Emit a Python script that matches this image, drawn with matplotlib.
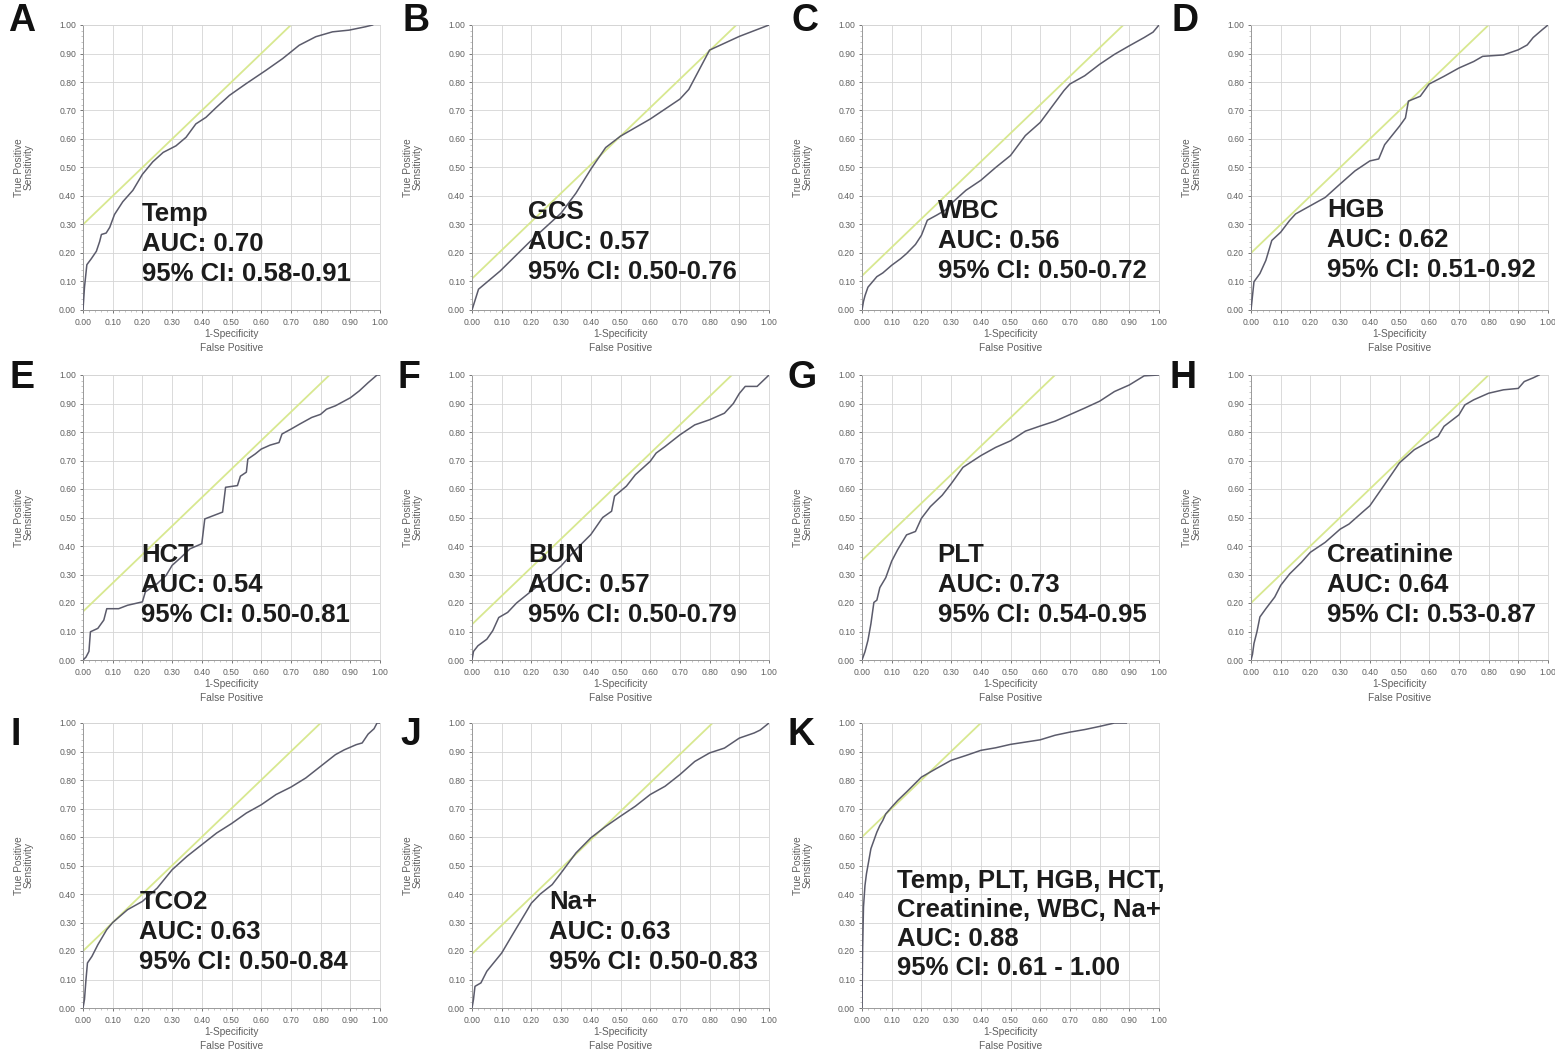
import numpy as np
import matplotlib
matplotlib.use("Agg")
import matplotlib.pyplot as plt
from matplotlib.ticker import MultipleLocator, FormatStrFormatter

plt.rcParams['font.family'] = ['Liberation Sans', 'DejaVu Sans']

# ---- ROC curve data (false positive rate, true positive rate) ----
temp_fpr = [0, 0.005, 0.013, 0.028, 0.045, 0.056, 0.062, 0.078, 0.09, 0.106, 0.134, 0.168, 0.20, 0.235,
            0.27, 0.313, 0.347, 0.38, 0.414, 0.448, 0.493, 0.549, 0.616, 0.672, 0.728, 0.784, 0.84,
            0.896, 0.952, 0.975]
temp_tpr = [0, 0.08, 0.159, 0.18, 0.206, 0.24, 0.265, 0.27, 0.29, 0.335, 0.38, 0.42, 0.476, 0.52,
            0.553, 0.576, 0.606, 0.653, 0.676, 0.71, 0.753, 0.794, 0.841, 0.882, 0.929, 0.959, 0.976,
            0.982, 0.994, 1.0]

gcs_fpr = [0, 0.022, 0.095, 0.20, 0.30, 0.35, 0.40, 0.45, 0.50, 0.60, 0.70, 0.73, 0.80, 0.90, 1.0]
gcs_tpr = [0, 0.073, 0.137, 0.245, 0.34, 0.41, 0.494, 0.57, 0.61, 0.67, 0.74, 0.774, 0.912, 0.96, 1.0]

wbc_fpr = [0, 0.005, 0.01, 0.02, 0.05, 0.07, 0.10, 0.13, 0.15, 0.18, 0.20, 0.22, 0.25, 0.28, 0.30, 0.35,
           0.40, 0.45, 0.50, 0.55, 0.60, 0.65, 0.68, 0.70, 0.75, 0.80, 0.85, 0.90, 0.95, 0.98, 1.0]
wbc_tpr = [0, 0.03, 0.05, 0.08, 0.117, 0.13, 0.157, 0.18, 0.198, 0.23, 0.262, 0.315, 0.332, 0.35, 0.373,
           0.42, 0.455, 0.50, 0.542, 0.612, 0.658, 0.728, 0.77, 0.793, 0.822, 0.862, 0.897, 0.927,
           0.956, 0.975, 1.0]

hgb_fpr = [0, 0.01, 0.03, 0.05, 0.07, 0.10, 0.13, 0.15, 0.20, 0.25, 0.30, 0.35, 0.40, 0.43, 0.45, 0.50,
           0.52, 0.53, 0.57, 0.60, 0.65, 0.70, 0.75, 0.78, 0.85, 0.90, 0.93, 0.95, 0.98, 1.0]
hgb_tpr = [0, 0.099, 0.128, 0.174, 0.244, 0.273, 0.314, 0.337, 0.366, 0.395, 0.442, 0.488, 0.523, 0.53,
           0.58, 0.645, 0.674, 0.733, 0.75, 0.793, 0.82, 0.849, 0.872, 0.89, 0.895, 0.913, 0.93,
           0.956, 0.983, 1.0]

hct_fpr = [0, 0.01, 0.02, 0.025, 0.05, 0.07, 0.08, 0.12, 0.15, 0.20, 0.21, 0.25, 0.28, 0.30, 0.33, 0.36,
           0.40, 0.41, 0.44, 0.47, 0.48, 0.52, 0.53, 0.55, 0.555, 0.58, 0.60, 0.63, 0.66, 0.67, 0.70,
           0.73, 0.77, 0.80, 0.82, 0.85, 0.90, 0.93, 0.96, 0.99, 1.0]
hct_tpr = [0, 0.01, 0.03, 0.099, 0.111, 0.14, 0.18, 0.18, 0.192, 0.204, 0.239, 0.268, 0.297, 0.332, 0.36,
           0.39, 0.408, 0.495, 0.507, 0.519, 0.606, 0.612, 0.645, 0.659, 0.705, 0.723, 0.74, 0.754,
           0.763, 0.793, 0.81, 0.828, 0.851, 0.862, 0.88, 0.892, 0.92, 0.944, 0.973, 1.0, 1.0]

bun_fpr = [0, 0.005, 0.02, 0.05, 0.07, 0.09, 0.12, 0.15, 0.20, 0.25, 0.30, 0.35, 0.40, 0.44, 0.47, 0.48,
           0.52, 0.55, 0.60, 0.62, 0.65, 0.70, 0.75, 0.80, 0.85, 0.88, 0.90, 0.92, 0.96, 0.98, 1.0]
bun_tpr = [0, 0.03, 0.05, 0.073, 0.103, 0.149, 0.167, 0.20, 0.242, 0.283, 0.33, 0.388, 0.44, 0.50, 0.522,
           0.575, 0.61, 0.65, 0.697, 0.726, 0.749, 0.79, 0.825, 0.843, 0.866, 0.90, 0.935, 0.96, 0.96,
           0.98, 1.0]

plt_fpr = [0, 0.01, 0.02, 0.03, 0.04, 0.05, 0.06, 0.08, 0.10, 0.12, 0.15, 0.18, 0.20, 0.23, 0.27, 0.30,
           0.34, 0.40, 0.45, 0.50, 0.55, 0.60, 0.65, 0.70, 0.75, 0.80, 0.85, 0.90, 0.95, 1.0]
plt_tpr = [0, 0.029, 0.069, 0.127, 0.202, 0.21, 0.254, 0.289, 0.347, 0.387, 0.439, 0.451, 0.497, 0.538,
           0.578, 0.618, 0.676, 0.717, 0.746, 0.769, 0.803, 0.821, 0.838, 0.861, 0.884, 0.908, 0.942,
           0.965, 0.997, 1.0]

creat_fpr = [0, 0.005, 0.01, 0.02, 0.03, 0.05, 0.08, 0.10, 0.13, 0.17, 0.20, 0.25, 0.30, 0.33, 0.38, 0.40,
             0.45, 0.50, 0.55, 0.60, 0.63, 0.65, 0.70, 0.72, 0.75, 0.80, 0.85, 0.90, 0.92, 0.95, 0.97]
creat_tpr = [0, 0.02, 0.058, 0.099, 0.151, 0.18, 0.221, 0.262, 0.302, 0.343, 0.378, 0.413, 0.459, 0.477,
             0.523, 0.541, 0.616, 0.692, 0.738, 0.767, 0.785, 0.82, 0.86, 0.895, 0.913, 0.936, 0.948,
             0.953, 0.977, 0.99, 1.0]

tco2_fpr = [0, 0.005, 0.01, 0.015, 0.03, 0.05, 0.08, 0.10, 0.15, 0.20, 0.25, 0.30, 0.35, 0.40, 0.45, 0.50,
            0.55, 0.60, 0.65, 0.70, 0.75, 0.80, 0.85, 0.88, 0.92, 0.94, 0.96, 0.98, 0.99, 1.0]
tco2_tpr = [0, 0.03, 0.099, 0.158, 0.181, 0.222, 0.275, 0.30, 0.345, 0.374, 0.421, 0.485, 0.532, 0.573,
            0.614, 0.647, 0.684, 0.713, 0.749, 0.775, 0.807, 0.848, 0.889, 0.906, 0.924, 0.93, 0.961,
            0.98, 1.0, 1.0]

na_fpr = [0, 0.005, 0.01, 0.03, 0.05, 0.10, 0.13, 0.15, 0.18, 0.20, 0.23, 0.27, 0.30, 0.35, 0.40, 0.45,
          0.50, 0.55, 0.60, 0.65, 0.70, 0.75, 0.80, 0.85, 0.90, 0.95, 0.97, 1.0]
na_tpr = [0, 0.03, 0.076, 0.088, 0.129, 0.193, 0.246, 0.281, 0.333, 0.368, 0.40, 0.433, 0.474, 0.544,
          0.597, 0.637, 0.673, 0.708, 0.749, 0.778, 0.819, 0.865, 0.895, 0.912, 0.947, 0.965, 0.975, 1.0]

combo_fpr = [0, 0.002, 0.005, 0.01, 0.015, 0.02, 0.03, 0.04, 0.05, 0.06, 0.07, 0.08, 0.10, 0.12, 0.15,
             0.20, 0.25, 0.30, 0.35, 0.40, 0.45, 0.50, 0.55, 0.60, 0.65, 0.70, 0.75, 0.80, 0.85, 0.89]
combo_tpr = [0, 0.20, 0.354, 0.43, 0.471, 0.50, 0.559, 0.588, 0.617, 0.64, 0.658, 0.681, 0.705, 0.728,
             0.758, 0.81, 0.84, 0.869, 0.886, 0.904, 0.913, 0.925, 0.933, 0.941, 0.957, 0.968, 0.977,
             0.988, 1.0, 1.0]

# Intercept of the slope-1 reference (Youden) line in each panel
youden_intercepts = [0.30, 0.11, 0.12, 0.20, 0.17, 0.125, 0.35, 0.20, 0.20, 0.19, 0.60]

panel_letters = ['A', 'B', 'C', 'D', 'E', 'F', 'G', 'H', 'I', 'J', 'K']
panel_titles = [['Temp'], ['GCS'], ['WBC'], ['HGB'], ['HCT'], ['BUN'], ['PLT'], ['Creatinine'],
                ['TCO2'], ['Na+'], ['Temp, PLT, HGB, HCT,', 'Creatinine, WBC, Na+']]
auc_values = ['0.70', '0.57', '0.56', '0.62', '0.54', '0.57', '0.73', '0.64', '0.63', '0.63', '0.88']
ci_values = ['0.58-0.91', '0.50-0.76', '0.50-0.72', '0.51-0.92', '0.50-0.81', '0.50-0.79',
             '0.54-0.95', '0.53-0.87', '0.50-0.84', '0.50-0.83', '0.61 - 1.00']

curves = [(temp_fpr, temp_tpr), (gcs_fpr, gcs_tpr), (wbc_fpr, wbc_tpr), (hgb_fpr, hgb_tpr),
          (hct_fpr, hct_tpr), (bun_fpr, bun_tpr), (plt_fpr, plt_tpr), (creat_fpr, creat_tpr),
          (tco2_fpr, tco2_tpr), (na_fpr, na_tpr), (combo_fpr, combo_tpr)]

# Layout (pixels on a 1555 x 1055 canvas)
W, H = 1555, 1055
col_x0 = [83, 472, 862, 1251]
row_top = [25, 375, 723]
ax_w, ax_h = 297, 285

# annotation anchor (data coords: left x, centre y of first line)
text_pos = [(0.198, 0.336), (0.188, 0.343), (0.255, 0.346), (0.257, 0.35),
            (0.196, 0.367), (0.188, 0.367), (0.255, 0.367), (0.257, 0.367),
            (0.19, 0.372), (0.26, 0.372), (0.117, 0.447)]
letter_pos = [(22, 21), (416, 21), (805, 21), (1185, 21),
              (22, 378), (409, 378), (802, 378), (1183, 378),
              (16, 735), (411, 735), (801, 735)]

curve_color = '#5b5b6b'
youden_color = '#d8e890'
text_color = '#1c1c1c'
tick_color = '#606060'

fig = plt.figure(figsize=(W / 100, H / 100), dpi=100)
fig.patch.set_facecolor('white')

for i in range(11):
    r, c = divmod(i, 4)
    left = col_x0[c] / W
    bottom = 1 - (row_top[r] + ax_h) / H
    ax = fig.add_axes([left, bottom, ax_w / W, ax_h / H])

    ax.set_xlim(0, 1)
    ax.set_ylim(0, 1)
    ax.xaxis.set_major_locator(MultipleLocator(0.1))
    ax.yaxis.set_major_locator(MultipleLocator(0.1))
    ax.xaxis.set_minor_locator(MultipleLocator(0.02))
    ax.yaxis.set_minor_locator(MultipleLocator(0.02))
    ax.xaxis.set_major_formatter(FormatStrFormatter('%.2f'))
    ax.yaxis.set_major_formatter(FormatStrFormatter('%.2f'))
    ax.tick_params(which='major', labelsize=6.2, colors=tick_color, length=2.5, width=0.6)
    ax.tick_params(axis='x', which='major', pad=3.5)
    ax.tick_params(axis='y', which='major', pad=2.5)
    ax.tick_params(which='minor', length=1.2, width=0.4, colors='#999999')
    ax.grid(True, which='major', color='#d4d4d4', lw=0.6)
    ax.set_axisbelow(True)
    for side in ['top', 'right']:
        ax.spines[side].set_color('#d4d4d4')
        ax.spines[side].set_linewidth(0.6)
    for side in ['left', 'bottom']:
        ax.spines[side].set_color('#9a9a9a')
        ax.spines[side].set_linewidth(0.7)

    ax.set_xlabel('1-Specificity\nFalse Positive', fontsize=7.3, color=tick_color, labelpad=1.5,
                  linespacing=1.5)
    ax.set_ylabel('True Positive\nSensitivity', fontsize=7.3, color=tick_color, labelpad=18,
                  linespacing=0.95)

    # slope-1 line through the optimal cut-off
    b = youden_intercepts[i]
    xs = np.array([0.0, 1.0 - b])
    ax.plot(xs, xs + b, color=youden_color, lw=1.3, zorder=2)

    fpr, tpr = curves[i]
    ax.plot(fpr, tpr, color=curve_color, lw=1.1, zorder=3)

    lines = panel_titles[i] + ['AUC: ' + auc_values[i], '95% CI: ' + ci_values[i]]
    tx, ty = text_pos[i]
    step = 30 / ax_h if i < 10 else 29 / ax_h
    for k, line in enumerate(lines):
        ax.text(tx, ty - k * step, line, fontsize=18.5, fontweight='bold', color=text_color,
                ha='left', va='center', zorder=5)

    lx, ly = letter_pos[i]
    fig.text(lx / W, 1 - ly / H, panel_letters[i], fontsize=27, fontweight='bold',
             color='#111111', ha='center', va='center')

fig.savefig('out.png', dpi=100, facecolor='white')
